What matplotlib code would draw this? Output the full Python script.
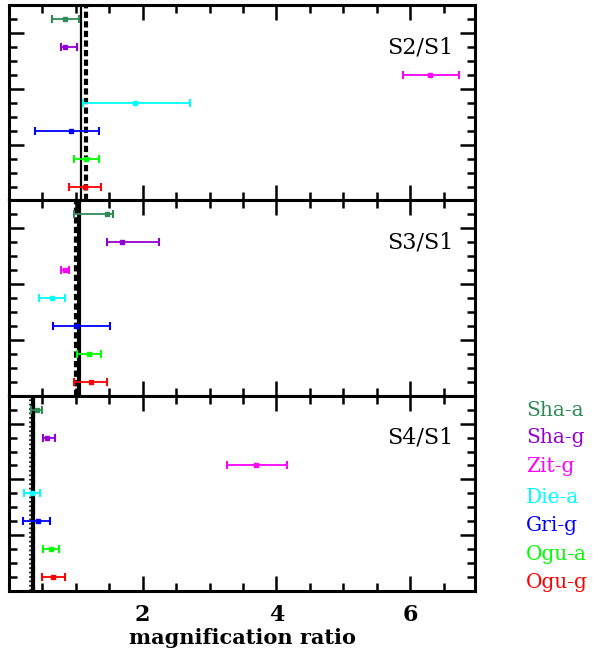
import matplotlib
matplotlib.use('Agg')
import matplotlib.pyplot as plt
from matplotlib.ticker import MultipleLocator, FixedLocator

plt.rcParams['font.family'] = ['DejaVu Serif']

# objects, top to bottom
names = ['Sha-a', 'Sha-g', 'Zit-g', 'Die-a', 'Gri-g', 'Ogu-a', 'Ogu-g']
colors = ['#2e8b57', '#9400d3', '#ff00ff', '#00ffff', '#0000ff', '#00ff00', '#ff0000']

panel_labels = ['S2/S1', 'S3/S1', 'S4/S1']

# ratio, lower bound, upper bound for each panel
s2_mid = [0.84, 0.83, 6.30, 1.89, 0.92, 1.15, 1.14]
s2_lo = [0.64, 0.77, 5.89, 1.10, 0.39, 0.97, 0.90]
s2_hi = [1.05, 1.02, 6.73, 2.70, 1.35, 1.34, 1.37]

s3_mid = [1.47, 1.69, 0.83, 0.64, 1.00, 1.19, 1.22]
s3_lo = [0.97, 1.47, 0.77, 0.45, 0.66, 1.01, 0.97]
s3_hi = [1.55, 2.25, 0.90, 0.84, 1.51, 1.37, 1.47]

s4_mid = [0.42, 0.57, 3.70, 0.34, 0.43, 0.63, 0.66]
s4_lo = [0.33, 0.51, 3.26, 0.23, 0.21, 0.51, 0.49]
s4_hi = [0.50, 0.69, 4.16, 0.46, 0.61, 0.75, 0.84]

# reference lines per panel: solid, dashed, dotted (None = not drawn)
solid_x = [1.08, 1.04, 0.36]
dashed_x = [1.145, 1.00, 0.365]
dotted_x = [None, None, 0.31]

mids = [s2_mid, s3_mid, s4_mid]
los = [s2_lo, s3_lo, s4_lo]
his = [s2_hi, s3_hi, s4_hi]

fig = plt.figure(figsize=(6.02, 6.54), dpi=100)
left, width = 0.015, 0.774
bottom, h = 0.0963, 0.2986

n = len(names)
ypos = [n - i - 0.5 for i in range(n)]

for p in range(3):
    ax = fig.add_axes([left, bottom + (2 - p) * h, width, h])
    for i in range(n):
        m = mids[p][i]
        ax.errorbar(m, ypos[i], xerr=[[m - los[p][i]], [his[p][i] - m]],
                    fmt='s', color=colors[i], ms=3, elinewidth=1.3,
                    capsize=3, capthick=1.5, zorder=3)
    ax.axvline(solid_x[p], color='black', lw=1.6 if p == 0 else 3, zorder=2)
    ax.axvline(dashed_x[p], color='black', lw=3, ls=(0, (1.5, 0.8)), zorder=2)
    if dotted_x[p] is not None:
        ax.axvline(dotted_x[p], color='black', lw=1.2, ls=':', zorder=2)

    ax.text(0.953, 0.785, panel_labels[p], transform=ax.transAxes,
            ha='right', va='center', fontsize=16)

    ax.set_xlim(0, 6.97)
    ax.set_ylim(0, 7)
    ax.xaxis.set_major_locator(FixedLocator([2, 4, 6]))
    ax.xaxis.set_minor_locator(MultipleLocator(0.5))
    ax.yaxis.set_major_locator(MultipleLocator(2))
    ax.yaxis.set_minor_locator(MultipleLocator(0.5))
    ax.tick_params(which='both', direction='in', top=True, right=True, width=1.8)
    ax.tick_params(which='major', length=11)
    ax.tick_params(which='minor', length=6)
    ax.set_yticklabels([])
    for s in ax.spines.values():
        s.set_linewidth(2.2)
    if p < 2:
        ax.set_xticklabels([])
    else:
        ax.tick_params(axis='x', pad=9, labelsize=16)
        for lab in ax.get_xticklabels():
            lab.set_fontweight('bold')
        ax.set_xlabel('magnification ratio', fontsize=15, fontweight='bold', labelpad=2)

# colour key on the right
key_y = [0.373, 0.331, 0.286, 0.240, 0.197, 0.152, 0.109]
for i in range(n):
    fig.text(0.874, key_y[i], names[i], color=colors[i], fontsize=14.5,
             ha='left', va='center')

fig.savefig('out.png', dpi=100)
